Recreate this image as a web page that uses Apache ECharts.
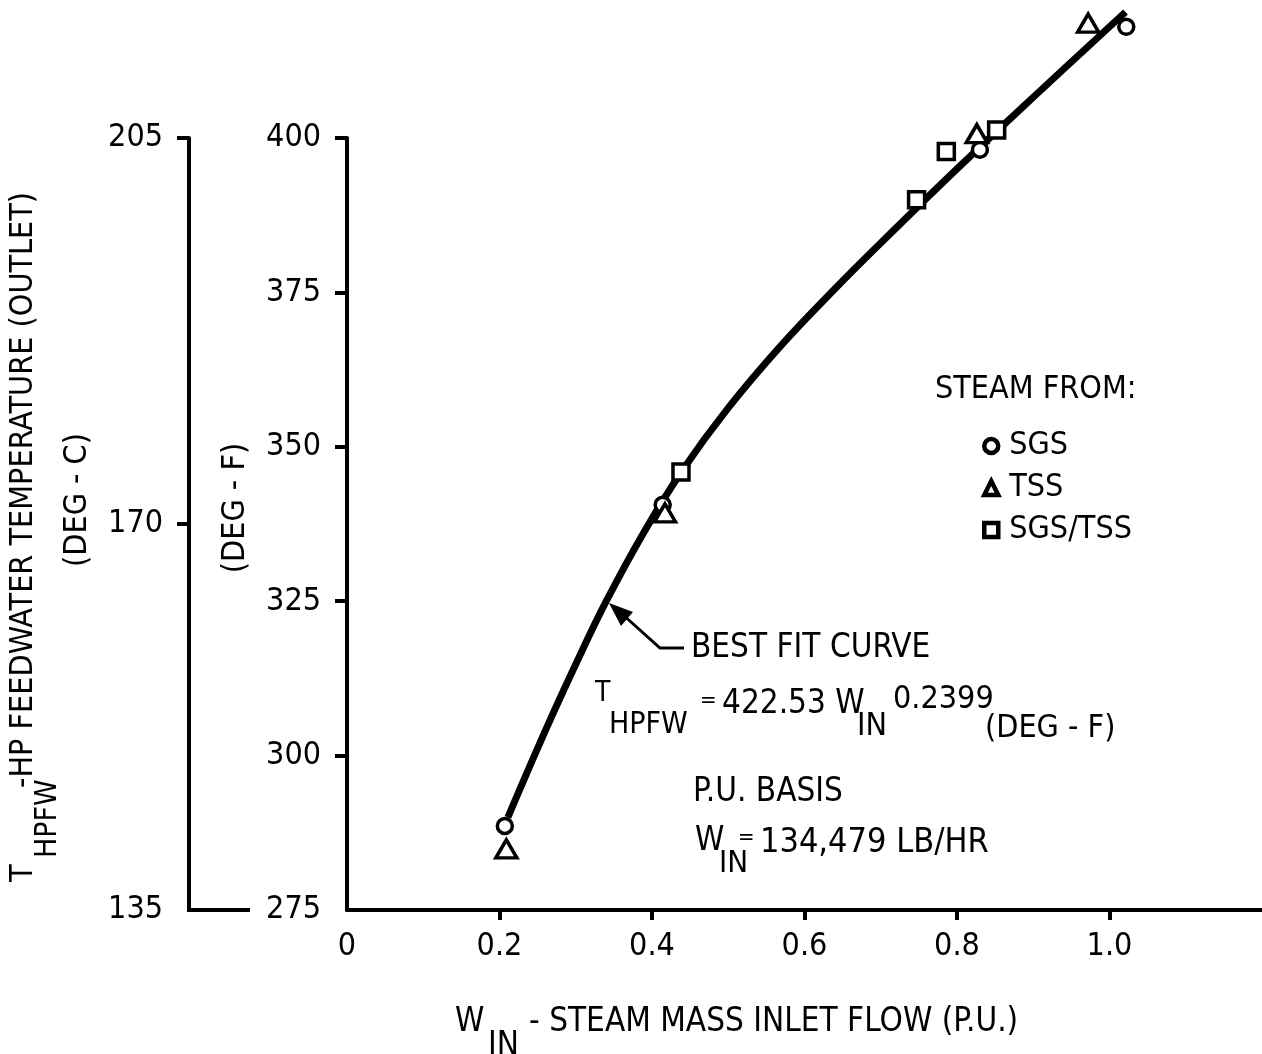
<!DOCTYPE html>
<html><head><meta charset="utf-8">
<script src="https://cdn.jsdelivr.net/npm/echarts@6/dist/echarts.min.js"></script>
<style>html,body{margin:0;padding:0;background:#fff}#c{width:1262px;height:1054px}</style>
</head><body><div id="c"></div>
<script>
const FONT = "'Liberation Sans Narrow','DejaVu Sans Condensed','Roboto Condensed',sans-serif";

// Tick labels
const xLabelValues = [0, 0.2, 0.4, 0.6, 0.8, 1.0];
const xTickValues = [0.2, 0.4, 0.6, 0.8, 1.0];
const yLabelsF = [275, 300, 325, 350, 375, 400];
const yTicksF = [300, 325, 350, 375, 400];
const yLabelsC = [135, 170, 205];
const yTicksC = [170, 205];

// Measured points (W_IN p.u., T deg F)
const sgs = [[0.207, 288.6], [0.414, 340.6], [0.830, 398.1], [1.022, 418.0]];
const tss = [[0.209, 284.9], [0.417, 339.3], [0.826, 400.7], [0.972, 418.6]];
const sgsTss = [[0.438, 345.9], [0.747, 390.0], [0.786, 397.8], [0.852, 401.3]];

// Best fit curve
const fitCurve = [[0.211, 290.0], [0.26, 304.0], [0.30, 314.8], [0.34, 325.0], [0.39, 336.3],
  [0.44, 346.2], [0.50, 356.3], [0.57, 366.5], [0.64, 375.6], [0.70, 383.0], [0.80, 395.0],
  [0.90, 406.6], [1.021, 420.4]];

const GRID_LEFT = 347, GRID_TOP = 138, GRID_BOTTOM = 144, C_OFFSET = 158;

const chart = echarts.init(document.getElementById('c'), null, {renderer: 'canvas'});
const black = '#000';
const axisLine = {show: true, lineStyle: {color: black, width: 4}};
const lbl = {color: black, fontSize: 32, fontFamily: FONT};
const hollow = {color: '#fff', borderColor: black, borderWidth: 3.5, opacity: 1};
const legendIcon = {color: '#fff', borderColor: black, borderWidth: 4.5, opacity: 1};

function txt(x, y, text, size, extra) {
  return Object.assign({type: 'text', x: x, y: y, style: {text: text, fill: black,
    font: size + 'px ' + FONT, textVerticalAlign: 'middle', textAlign: 'left'}}, extra || {});
}
function vtxt(x, y, text, size) {
  return {type: 'text', x: x, y: y, rotation: Math.PI / 2, style: {text: text, fill: black,
    font: size + 'px ' + FONT, textVerticalAlign: 'middle', textAlign: 'center'}};
}

const option = {
  animation: false,
  backgroundColor: '#fff',
  grid: {left: GRID_LEFT, right: 0, top: GRID_TOP, bottom: GRID_BOTTOM, containLabel: false},
  xAxis: {
    type: 'value', min: 0, max: 1.2,
    axisLine: axisLine,
    splitLine: {show: false},
    axisTick: {show: true, length: 10, lineStyle: {color: black, width: 4}, customValues: xTickValues},
    axisLabel: Object.assign({margin: 21, customValues: xLabelValues,
      formatter: v => (v === 0 ? '0' : v.toFixed(1))}, lbl)
  },
  yAxis: [{
    type: 'value', min: 275, max: 400, position: 'left',
    axisLine: axisLine,
    splitLine: {show: false},
    axisTick: {show: true, length: 12, lineStyle: {color: black, width: 4}, customValues: yTicksF},
    axisLabel: Object.assign({margin: 26, customValues: yLabelsF}, lbl)
  }, {
    type: 'value', min: 135, max: 205, position: 'left', offset: C_OFFSET,
    axisLine: axisLine,
    splitLine: {show: false},
    axisTick: {show: true, length: 12, lineStyle: {color: black, width: 4}, customValues: yTicksC},
    axisLabel: Object.assign({margin: 26, customValues: yLabelsC}, lbl)
  }],
  legend: {
    orient: 'vertical', left: 977, top: 425, itemWidth: 14, itemHeight: 14, itemGap: 10,
    selectedMode: false,
    textStyle: {color: black, fontSize: 32, fontFamily: FONT, padding: [0, 0, 0, 6]},
    data: [
      {name: 'SGS', icon: 'circle', itemStyle: legendIcon},
      {name: 'TSS', icon: 'triangle', itemStyle: legendIcon},
      {name: 'SGS/TSS', icon: 'rect', itemStyle: legendIcon}
    ]
  },
  series: [
    {name: 'BEST FIT CURVE', type: 'line', data: fitCurve, smooth: 0.4,
      symbol: 'none', clip: false, lineStyle: {color: black, width: 7}, z: 2},
    {name: 'SGS', type: 'scatter', data: sgs, symbol: 'circle', symbolSize: 15, clip: false, itemStyle: hollow, z: 3},
    {name: 'TSS', type: 'scatter', data: tss, symbol: 'triangle', symbolSize: [21, 18], clip: false, itemStyle: hollow, z: 3},
    {name: 'SGS/TSS', type: 'scatter', data: sgsTss, symbol: 'rect', symbolSize: 16, clip: false, itemStyle: hollow, z: 3}
  ]
};
chart.setOption(option);

// annotations
const y275 = chart.convertToPixel({yAxisIndex: 0}, 275);
const cAxisX = GRID_LEFT - C_OFFSET;
const tip = [609, 603];
const graphics = [
  // bottom foot of the deg C axis
  {type: 'line', shape: {x1: cAxisX - 2, y1: y275, x2: 250, y2: y275}, style: {stroke: black, lineWidth: 4}},
  // left titles
  {type: 'group', x: 24, y: 882, rotation: Math.PI / 2, children: [
    txt(0, 0, 'T', 32),
    txt(24, 24, 'HPFW', 30),
    txt(94, 0, '-HP FEEDWATER TEMPERATURE (OUTLET)', 32)
  ]},
  vtxt(78, 500, '(DEG - C)', 32),
  vtxt(236, 508, '(DEG - F)', 32),
  // x title
  txt(455, 1022, 'W', 33),
  txt(488, 1046, 'IN', 33),
  txt(529, 1022, '- STEAM MASS INLET FLOW (P.U.)', 33),
  // legend heading
  txt(935, 390, 'STEAM FROM:', 32),
  // arrow
  {type: 'polyline', shape: {points: [[tip[0] + 12, tip[1] + 10], [660, 648], [684, 648]]},
    style: {stroke: black, lineWidth: 3, fill: null}},
  {type: 'polygon', shape: {points: [tip, [633, 612], [621, 626]]}, style: {fill: black}},
  txt(691, 648, 'BEST FIT CURVE', 33),
  // formula
  txt(595, 694, 'T', 28),
  txt(609, 725, 'HPFW', 30),
  txt(700, 701, '=', 22),
  txt(722, 704, '422.53 W', 33),
  txt(857, 727, 'IN', 32),
  txt(893, 700, '0.2399', 32),
  txt(985, 729, '(DEG - F)', 32),
  txt(693, 792, 'P.U. BASIS', 33),
  txt(695, 841, 'W', 33),
  txt(719, 864, 'IN', 31),
  txt(738, 838, '=', 22),
  txt(760, 843, '134,479 LB/HR', 34)
];
chart.setOption({graphic: graphics});
</script>
</body></html>
